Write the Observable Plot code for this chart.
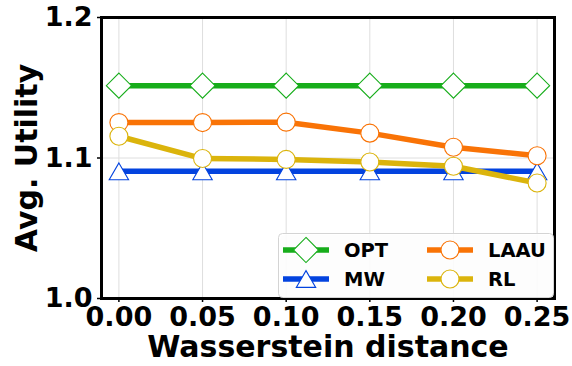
<!DOCTYPE html>
<html>
<head>
<meta charset="utf-8">
<script src="https://cdn.jsdelivr.net/npm/d3@7"></script>
<script src="https://cdn.jsdelivr.net/npm/@observablehq/plot@0.6"></script>
<style>
  html, body { margin: 0; padding: 0; background: #fff; }
  #wrap { position: relative; width: 572px; height: 366px; }
  #legend { position: absolute; left: 0; top: 0; pointer-events: none; }
</style>
</head>
<body>
<div id="wrap"></div>
<script>
// ---- data ----
const distances = [0.00, 0.05, 0.10, 0.15, 0.20, 0.25];
const optValues  = [1.1515, 1.1515, 1.1515, 1.1515, 1.1515, 1.1515];
const mwValues   = [1.0905, 1.0905, 1.0905, 1.0905, 1.0905, 1.0905];
const laauValues = [1.1252, 1.1252, 1.1255, 1.1177, 1.1077, 1.1016];
const rlValues   = [1.1155, 1.0996, 1.0990, 1.0972, 1.0941, 1.0822];
const seriesNames = ["OPT", "MW", "LAAU", "RL"];
const xTicks = [0.00, 0.05, 0.10, 0.15, 0.20, 0.25];
const yTicks = [1.0, 1.1, 1.2];
const xLabel = "Wasserstein distance";
const yLabel = "Avg. Utility";

const colors  = {OPT: "#17ad1b", MW: "#0343df", LAAU: "#f97306", RL: "#dbb40c"};
const symbols = {OPT: "diamond2", MW: "triangle", LAAU: "circle", RL: "circle"};
const radii   = {OPT: 11.3, MW: 7.2, LAAU: 9, RL: 9};
const dys     = {OPT: 0, MW: 2.8, LAAU: 0, RL: 0};

const valuesBy = {OPT: optValues, MW: mwValues, LAAU: laauValues, RL: rlValues};
const rows = seriesNames.map(name => distances.map((d, i) => ({series: name, x: d, y: valuesBy[name][i]})));

const font = "DejaVu Sans";

const seriesMarks = rows.flatMap(data => {
  const name = data[0].series;
  return [
    Plot.line(data, {x: "x", y: "y", stroke: colors[name], strokeWidth: 5.5}),
    Plot.dot(data, {x: "x", y: "y", symbol: symbols[name], r: radii[name], dy: dys[name],
                    fill: "white", stroke: colors[name], strokeWidth: 1.1})
  ];
});

const chart = Plot.plot({
  width: 572,
  height: 366,
  marginLeft: 101,
  marginRight: 18,
  marginTop: 17,
  marginBottom: 68,
  style: {fontFamily: font, fontWeight: "bold", fontSize: "27px", color: "black", background: "white", overflow: "visible"},
  x: {domain: [-0.0104, 0.2604]},
  y: {domain: [1.0, 1.2]},
  marks: [
    Plot.gridX(xTicks, {stroke: "#dedede", strokeOpacity: 1, strokeWidth: 1}),
    Plot.gridY([1.1], {stroke: "#dedede", strokeOpacity: 1, strokeWidth: 1}),
    ...seriesMarks,
    Plot.frame({stroke: "black", strokeWidth: 3}),
    Plot.axisX(xTicks, {tickFormat: d => d.toFixed(2), tickSize: 4, tickPadding: 4, strokeWidth: 1.5, label: null, fontSize: 27, fontWeight: "bold"}),
    Plot.axisY(yTicks, {tickFormat: d => d.toFixed(1), tickSize: 4, tickPadding: 5, strokeWidth: 1.5, label: null, fontSize: 27, fontWeight: "bold"}),
    Plot.text([xLabel], {frameAnchor: "bottom", dy: 58, fontSize: 30, fontWeight: "bold"}),
    Plot.text([yLabel], {frameAnchor: "left", dx: -74, rotate: -90, textAnchor: "middle", fontSize: 30, fontWeight: "bold"})
  ]
});

const wrap = document.getElementById("wrap");
wrap.appendChild(chart);

// ---- legend overlay ----
const lg = d3.select(wrap).append("svg").attr("id", "legend")
  .attr("width", 572).attr("height", 366);
const box = {x: 278.5, y: 233.5, w: 275, h: 64};
lg.append("rect").attr("x", box.x + 1.5).attr("y", box.y + 1.5).attr("width", box.w).attr("height", box.h)
  .attr("rx", 4).attr("fill", "#000").attr("opacity", 0.08);
lg.append("rect").attr("x", box.x).attr("y", box.y).attr("width", box.w).attr("height", box.h)
  .attr("rx", 4).attr("fill", "white").attr("fill-opacity", 0.9).attr("stroke", "#d4d4d4").attr("stroke-width", 1);

const symMap = {diamond2: d3.symbolDiamond2, triangle: d3.symbolTriangle, circle: d3.symbolCircle};
const layout = [
  {name: "OPT",  lx: 283, cy: 250},
  {name: "MW",   lx: 283, cy: 279},
  {name: "LAAU", lx: 427, cy: 250},
  {name: "RL",   lx: 427, cy: 279}
];
layout.forEach(({name, lx, cy}) => {
  const g = lg.append("g");
  g.append("line").attr("x1", lx).attr("x2", lx + 46).attr("y1", cy).attr("y2", cy)
    .attr("stroke", colors[name]).attr("stroke-width", 5.5);
  const size = Math.PI * radii[name] * radii[name];
  g.append("path").attr("d", d3.symbol(symMap[symbols[name]], size)())
    .attr("transform", `translate(${lx + 23},${cy + dys[name]})`)
    .attr("fill", "white").attr("stroke", colors[name]).attr("stroke-width", 1.1);
  g.append("text").attr("x", lx + 61).attr("y", cy).attr("dy", "0.36em")
    .attr("font-family", font).attr("font-weight", "bold").attr("font-size", 19.5)
    .attr("fill", "black").text(name);
});
</script>
</body>
</html>
